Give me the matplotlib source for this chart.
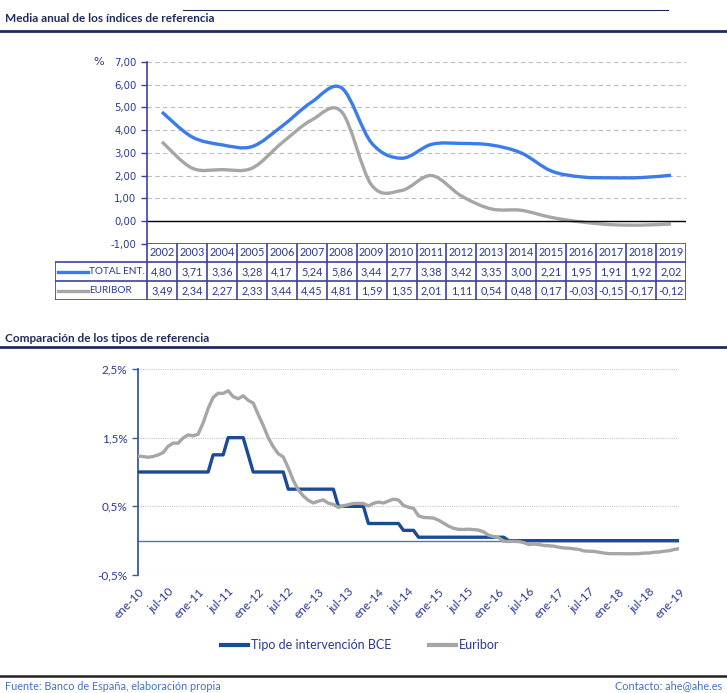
import numpy as np
import matplotlib
matplotlib.use("Agg")
import matplotlib.pyplot as plt
from matplotlib.path import Path
from matplotlib.patches import PathPatch
from matplotlib.lines import Line2D

W, H = 727, 693

# ---- data: annual average of reference indices ----
years = [2002, 2003, 2004, 2005, 2006, 2007, 2008, 2009, 2010,
         2011, 2012, 2013, 2014, 2015, 2016, 2017, 2018, 2019]
total_ent = [4.80, 3.71, 3.36, 3.28, 4.17, 5.24, 5.86, 3.44, 2.77,
             3.38, 3.42, 3.35, 3.00, 2.21, 1.95, 1.91, 1.92, 2.02]
euribor_anual = [3.49, 2.34, 2.27, 2.33, 3.44, 4.45, 4.81, 1.59, 1.35,
                 2.01, 1.11, 0.54, 0.48, 0.17, -0.03, -0.15, -0.17, -0.12]

# ---- data: monthly, ene-2010 .. ene-2019 ----
bce = [
    1.00, 1.00, 1.00, 1.00, 1.00, 1.00, 1.00, 1.00, 1.00, 1.00, 1.00, 1.00,  # 2010
    1.00, 1.00, 1.00, 1.25, 1.25, 1.25, 1.50, 1.50, 1.50, 1.50, 1.25, 1.00,  # 2011
    1.00, 1.00, 1.00, 1.00, 1.00, 1.00, 0.75, 0.75, 0.75, 0.75, 0.75, 0.75,  # 2012
    0.75, 0.75, 0.75, 0.75, 0.50, 0.50, 0.50, 0.50, 0.50, 0.50, 0.25, 0.25,  # 2013
    0.25, 0.25, 0.25, 0.25, 0.25, 0.15, 0.15, 0.15, 0.05, 0.05, 0.05, 0.05,  # 2014
    0.05, 0.05, 0.05, 0.05, 0.05, 0.05, 0.05, 0.05, 0.05, 0.05, 0.05, 0.05,  # 2015
    0.05, 0.05, 0.00, 0.00, 0.00, 0.00, 0.00, 0.00, 0.00, 0.00, 0.00, 0.00,  # 2016
    0.00, 0.00, 0.00, 0.00, 0.00, 0.00, 0.00, 0.00, 0.00, 0.00, 0.00, 0.00,  # 2017
    0.00, 0.00, 0.00, 0.00, 0.00, 0.00, 0.00, 0.00, 0.00, 0.00, 0.00, 0.00,  # 2018
    0.00,                                                                    # 2019
]
euribor = [
    1.232, 1.225, 1.215, 1.225, 1.249, 1.281, 1.373, 1.421, 1.420, 1.495, 1.541, 1.526,
    1.550, 1.714, 1.924, 2.086, 2.147, 2.144, 2.183, 2.097, 2.067, 2.110, 2.044, 2.004,
    1.837, 1.678, 1.499, 1.368, 1.266, 1.219, 1.061, 0.877, 0.740, 0.650, 0.588, 0.549,
    0.575, 0.594, 0.545, 0.528, 0.484, 0.507, 0.525, 0.542, 0.543, 0.541, 0.506, 0.543,
    0.562, 0.549, 0.577, 0.604, 0.592, 0.513, 0.488, 0.469, 0.362, 0.338, 0.335, 0.329,
    0.298, 0.255, 0.212, 0.180, 0.165, 0.163, 0.167, 0.161, 0.154, 0.128, 0.079, 0.059,
    0.042, -0.008, -0.012, -0.010, -0.013, -0.028, -0.056, -0.048, -0.057, -0.069, -0.074, -0.080,
    -0.095, -0.106, -0.110, -0.119, -0.127, -0.149, -0.154, -0.156, -0.168, -0.180, -0.189, -0.190,
    -0.189, -0.191, -0.191, -0.190, -0.188, -0.181, -0.180, -0.169, -0.166, -0.154, -0.147, -0.129,
    -0.116,
]
month_labels = ["ene-10", "jul-10", "ene-11", "jul-11", "ene-12", "jul-12", "ene-13",
                "jul-13", "ene-14", "jul-14", "ene-15", "jul-15", "ene-16", "jul-16",
                "ene-17", "jul-17", "ene-18", "jul-18", "ene-19"]

NAVY = "#1F2D5C"
TXT = "#2B3A8C"
GRID_BLUE = "#3F3F9F"
BLUE = "#3B7BEA"
GREY = "#A6A6A6"
BCE_BLUE = "#1B4B97"
CAL = ["Lato", "DejaVu Sans"]


def box(l, t, r, b):
    return [l / W, 1 - b / H, (r - l) / W, (b - t) / H]


def smooth_path(x, y):
    # excel-like smoothed line, drawn as bezier segments
    pts = np.column_stack([x, y]).astype(float)
    ext = np.vstack([pts[0], pts, pts[-1]])
    verts = [pts[0]]
    codes = [Path.MOVETO]
    for i in range(len(pts) - 1):
        p0, p1, p2, p3 = ext[i], ext[i + 1], ext[i + 2], ext[i + 3]
        verts += [p1 + (p2 - p0) / 6, p2 - (p3 - p1) / 6, p2]
        codes += [Path.CURVE4] * 3
    return Path(verts, codes)


def fmt(v):
    return f"{v:.2f}".replace(".", ",")


fig = plt.figure(figsize=(W / 100, H / 100), dpi=100)

# header decorations
fig.add_artist(Line2D([183 / W, 668 / W], [1 - 10 / H] * 2, color=NAVY, lw=0.8))
fig.text(5 / W, 1 - 19 / H, "Media anual de los índices de referencia", family=CAL,
         fontsize=8.5, weight="bold", color=NAVY, va="center")
fig.add_artist(Line2D([0, 1], [1 - 31 / H] * 2, color=NAVY, lw=2))

# ---- top chart ----
ax1 = fig.add_axes(box(147, 62, 686, 244))
x = np.arange(len(years))
ax1.add_patch(PathPatch(smooth_path(x, euribor_anual), fill=False, edgecolor=GREY, lw=2.4))
ax1.add_patch(PathPatch(smooth_path(x, total_ent), fill=False, edgecolor=BLUE, lw=2.4))
ax1.set_xlim(-0.5, len(years) - 0.5)
ax1.set_ylim(-1, 7)
ax1.set_yticks(range(-1, 8))
ax1.set_yticklabels([fmt(v) for v in range(-1, 8)])
ax1.tick_params(axis="y", colors=GRID_BLUE, labelcolor=TXT, labelsize=7.3, length=4, width=1)
ax1.set_xticks([])
for s in ["top", "right", "bottom"]:
    ax1.spines[s].set_visible(False)
ax1.spines["left"].set_color(GRID_BLUE)
ax1.spines["left"].set_linewidth(1.2)
for v in range(1, 8):
    ax1.axhline(v, color="#BDBDBD", lw=0.8, ls=(0, (4, 3)), zorder=0)
ax1.axhline(0, color="black", lw=1, zorder=1)
fig.text(93 / W, 1 - 62 / H, "%", fontsize=8, color=TXT, va="center")

# table under the top chart
col_w = 539 / len(years)
lab_w = 92 / col_w
axt = fig.add_axes(box(55, 243, 686, 300))
axt.set_xlim(-0.5 - lab_w, len(years) - 0.5)
axt.set_ylim(3, 0)
axt.axis("off")
x_left = -0.5 - lab_w
axt.hlines(0, -0.5, len(years) - 0.5, color=GRID_BLUE, lw=1.2)
axt.hlines([1, 2, 3], x_left, len(years) - 0.5, color=GRID_BLUE, lw=1.2)
axt.vlines(np.arange(len(years) + 1) - 0.5, 0, 3, color=GRID_BLUE, lw=1.2)
axt.vlines(x_left, 1, 3, color=GRID_BLUE, lw=1.2)
for i, yr in enumerate(years):
    axt.text(i, 0.5, str(yr), ha="center", va="center", fontsize=7.8, color=TXT, family=CAL)
    axt.text(i, 1.5, fmt(total_ent[i]), ha="center", va="center", fontsize=7.8, color=TXT, family=CAL)
    axt.text(i, 2.5, fmt(euribor_anual[i]), ha="center", va="center", fontsize=7.8, color=TXT, family=CAL)
for row, (name, c) in enumerate([("TOTAL ENT.", BLUE), ("EURIBOR", GREY)]):
    yy = row + 1.5
    axt.plot([x_left + 3 / col_w, x_left + 33 / col_w], [yy, yy], color=c, lw=2.4)
    axt.text(x_left + 34 / col_w, yy, name, ha="left", va="center", fontsize=7.2,
             color=TXT, family=CAL)

# ---- bottom chart ----
fig.text(5 / W, 1 - 338 / H, "Comparación de los tipos de referencia", family=CAL,
         fontsize=8.5, weight="bold", color=NAVY, va="center")
fig.add_artist(Line2D([0, 1], [1 - 347 / H] * 2, color=NAVY, lw=2))

ax2 = fig.add_axes(box(138, 369, 679, 575))
m = np.arange(len(bce))
ax2.plot(m, bce, color=BCE_BLUE, lw=2.4, label="Tipo de intervención BCE", zorder=3)
ax2.plot(m, euribor, color=GREY, lw=2.4, label="Euribor", zorder=4)
ax2.set_xlim(0, len(bce) - 1)
ax2.set_ylim(-0.5, 2.5)
yt = [-0.5, 0.5, 1.5, 2.5]
ax2.set_yticks(yt)
ax2.set_yticklabels([f"{v:.1f}%".replace(".", ",") for v in yt], family=CAL)
ax2.tick_params(axis="y", colors="#3C5A9A", labelcolor=TXT, labelsize=8.5, length=4, width=1)
ax2.set_xticks(m[::6])
ax2.set_xticklabels(month_labels, rotation=45, ha="right", rotation_mode="anchor",
                    family=CAL, fontsize=8.5, color=TXT)
ax2.tick_params(axis="x", length=0, pad=8)
for s in ["top", "right", "bottom"]:
    ax2.spines[s].set_visible(False)
ax2.spines["left"].set_color("#3C5A9A")
ax2.spines["left"].set_linewidth(1.3)
for v in yt:
    ax2.axhline(v, color="#C8C8C8", lw=0.8, ls=(0, (1, 1)), zorder=0)
ax2.axhline(0, color="#5B73A8", lw=1, zorder=2)

leg = fig.legend(loc="center", bbox_to_anchor=(360 / W, 1 - 645 / H), ncol=2,
                 frameon=False, handlelength=2.2, handletextpad=0.2, columnspacing=3,
                 prop={"family": CAL, "size": 9})
for t in leg.get_texts():
    t.set_color(TXT)
for ln in leg.get_lines():
    ln.set_linewidth(3)

# footer
fig.add_artist(Line2D([0, 1], [1 - 676 / H] * 2, color="#222222", lw=1.8))
fig.text(5 / W, 1 - 686 / H, "Fuente: Banco de España, elaboración propia", family=CAL,
         fontsize=7.8, color="#4472C4", va="center")
fig.text(722 / W, 1 - 686 / H, "Contacto: ahe@ahe.es", family=CAL,
         fontsize=7.8, color="#4472C4", va="center", ha="right")

fig.savefig("out.png", dpi=100)
